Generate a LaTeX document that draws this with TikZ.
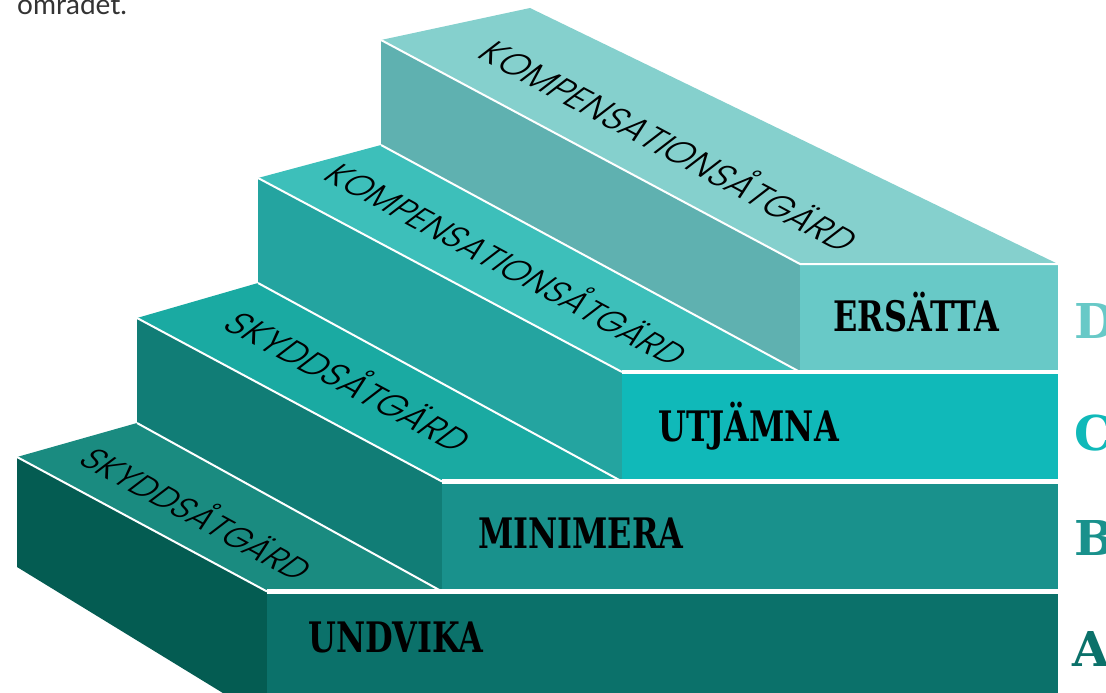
\documentclass[tikz,border=0pt]{standalone}
\usepackage{fontspec}
\setmainfont{Lato}
\newfontfamily\labfont{DejaVu Serif}[FakeStretch=0.76]
\newfontfamily\letfont{DejaVu Serif}
\newfontfamily\topfont{Poppins Light}
\newfontfamily\fragfont{Lato}
\definecolor{Aside}{HTML}{045C52}
\definecolor{Atop}{HTML}{1A8B80}
\definecolor{Afront}{HTML}{0B716A}
\definecolor{Bside}{HTML}{117D76}
\definecolor{Btop}{HTML}{1AAAA2}
\definecolor{Bfront}{HTML}{19918C}
\definecolor{Cside}{HTML}{24A4A0}
\definecolor{Ctop}{HTML}{3DBFBA}
\definecolor{Cfront}{HTML}{10B9B9}
\definecolor{Dside}{HTML}{5FB1B0}
\definecolor{Dtop}{HTML}{85D0CD}
\definecolor{Dfront}{HTML}{68C9C7}
\definecolor{bodytext}{HTML}{333333}
\tikzset{
  wl/.style={white, line width=2pt},
  gapline/.style={white, line width=4.5pt},
  steplabel/.style={font=\labfont\bfseries\fontsize{42}{44}\selectfont, anchor=base west, inner sep=0pt, text=black},
  sidelabel/.style={font=\letfont\bfseries\fontsize{48}{50}\selectfont, anchor=base west, inner sep=0pt},
  toplabel/.style={inner sep=0pt, text=black}
}
\begin{document}
\begin{tikzpicture}[x=1pt,y=-1pt]
\useasboundingbox (0,0) rectangle (1106,693);
\clip (0,0) rectangle (1106,693);
% step D
\fill[Dside] (381,40) -- (800,264) -- (800,372) -- (381,145) -- cycle;
\fill[Dtop] (381,40) -- (530,8) -- (1058,264) -- (800,264) -- cycle;
\fill[Dfront] (800,264) rectangle (1058,372);
% step C
\fill[Cside] (258,178) -- (622,372) -- (622,481.5) -- (258,283) -- cycle;
\fill[Ctop] (258,178) -- (381,145) -- (800,372) -- (622,372) -- cycle;
\fill[Cfront] (622,372) rectangle (1058,481.5);
% step B
\fill[Bside] (137,318) -- (442,481.5) -- (442,591.5) -- (137,423) -- cycle;
\fill[Btop] (137,318) -- (258,283) -- (622,481.5) -- (442,481.5) -- cycle;
\fill[Bfront] (442,481.5) rectangle (1058,591.5);
% step A
\fill[Aside] (17,457) -- (267,591.5) -- (267,720) -- (17,567) -- cycle;
\fill[Atop] (17,457) -- (137,423) -- (442,591.5) -- (267,591.5) -- cycle;
\fill[Afront] (267,591.5) rectangle (1058,720);
% white edges
\draw[wl] (381,40) -- (800,264) -- (1058,264);
\draw[wl] (381,145) -- (800,372);
\draw[wl] (258,178) -- (622,372);
\draw[wl] (258,283) -- (622,481.5);
\draw[wl] (137,318) -- (442,481.5);
\draw[wl] (137,423) -- (442,591.5);
\draw[wl] (17,457) -- (267,591.5);
\draw[gapline] (622,372) -- (1058,372);
\draw[gapline] (442,481.5) -- (1058,481.5);
\draw[gapline] (267,591.5) -- (1058,591.5);
% top labels
\node[toplabel, font=\topfont\fontsize{35}{37}\selectfont, rotate=-28.2, xslant=0.45] (tD) at (673,144) {KOMPENSATIONSÅTGÄRD};
\node[toplabel, font=\topfont\fontsize{33.5}{35}\selectfont, rotate=-28.4, xslant=0.45] (tC) at (510,262) {KOMPENSATIONSÅTGÄRD};
\node[toplabel, font=\topfont\fontsize{35}{37}\selectfont, rotate=-28.3, xslant=0.45] (tB) at (352,379) {SKYDDSÅTGÄRD};
\node[toplabel, font=\topfont\fontsize{33}{35}\selectfont, rotate=-28.5, xslant=0.45] (tA) at (200,512) {SKYDDSÅTGÄRD};
% front labels
\node[steplabel] (lD) at (833,331) {ERSÄTTA};
\node[steplabel] (lC) at (658,441) {UTJÄMNA};
\node[steplabel] (lB) at (478,548) {MINIMERA};
\node[steplabel] (lA) at (308,652) {UNDVIKA};
% side letters
\node[sidelabel, text=Dfront] (sD) at (1074,338) {D};
\node[sidelabel, text=Cfront] (sC) at (1074,450) {C};
\node[sidelabel, text=Bfront] (sB) at (1074,555) {B};
\node[sidelabel, text=Afront] (sA) at (1072,666) {A};
% text fragment
\node[font=\fragfont\fontsize{28}{30}\selectfont, text=bodytext, anchor=base west, inner sep=0pt] (frag) at (17,15) {området.};
\end{tikzpicture}
\end{document}
